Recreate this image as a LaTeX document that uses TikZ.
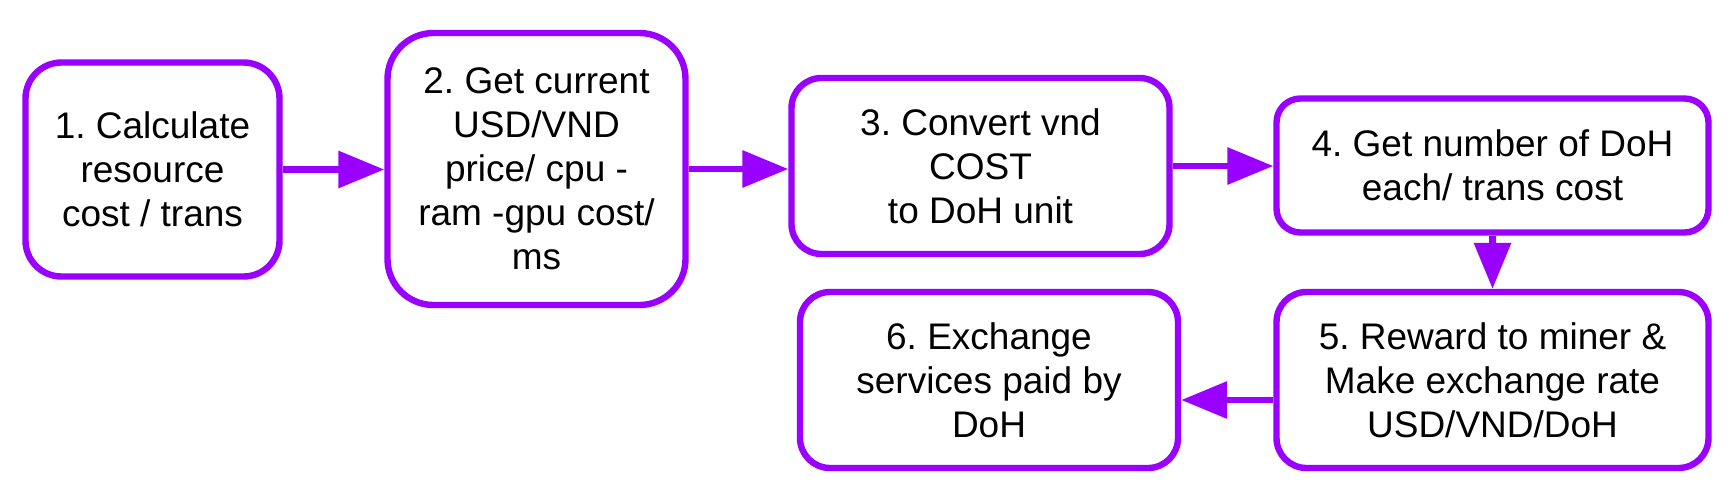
\documentclass[tikz,border=0pt]{standalone}
\usepackage{fontspec}
\setmainfont{Liberation Sans}
\usetikzlibrary{arrows.meta, positioning}
\definecolor{stepviolet}{HTML}{9900FF}
\frenchspacing

\begin{document}
\begin{tikzpicture}[
    x=0.5pt, y=-0.5pt,
    >={Triangle[length=23pt,width=18pt]},
    font=\fontsize{18.5pt}{22pt}\selectfont,
    box/.style={
        draw=stepviolet, rounded corners=15pt, align=center,
        inner sep=0pt, fill=white, line width=3.2pt
    },
    arr/.style={->, draw=stepviolet, line width=3.2pt},
]
\useasboundingbox (0,0) rectangle (1735,499);
% ---------- top row ----------
\node[box, rounded corners=18pt, minimum width=127pt, minimum height=107pt] (calc) at (152.5, 169.5)
    {1. Calculate\\resource\\cost / trans};
\node[box, rounded corners=23pt, minimum width=149pt, minimum height=136pt] (price) at (536.5, 169)
    {2. Get current\\USD/VND\\price/ cpu -\\ram -gpu cost/\\ms};
\node[box, minimum width=189pt, minimum height=88pt] (convert) at (980.5, 166)
    {3. Convert vnd\\COST\\to DoH unit};
\node[box, rounded corners=12pt, minimum width=216pt, minimum height=67pt] (number) at (1492.5, 165.5)
    {4. Get number of DoH\\each/ trans cost};
% ---------- bottom row ----------
\node[box, minimum width=216pt, minimum height=88pt] (reward) at (1492.5, 380)
    {5. Reward to miner \&\\Make exchange rate\\USD/VND/DoH};
\node[box, minimum width=189pt, minimum height=88pt] (exch) at (989, 380)
    {6. Exchange\\services paid by\\DoH};
% ===================== EDGES =====================
\draw[arr] (calc.east) -- (price.west |- calc.east);
\draw[arr] (price.east) -- (convert.west |- price.east);
\draw[arr] (convert.east) -- (number.west |- convert.east);
\draw[arr] (number) -- (reward);
\draw[arr] ([yshift=-10pt]reward.west) -- ([yshift=-10pt]exch.east);
\end{tikzpicture}
\end{document}
